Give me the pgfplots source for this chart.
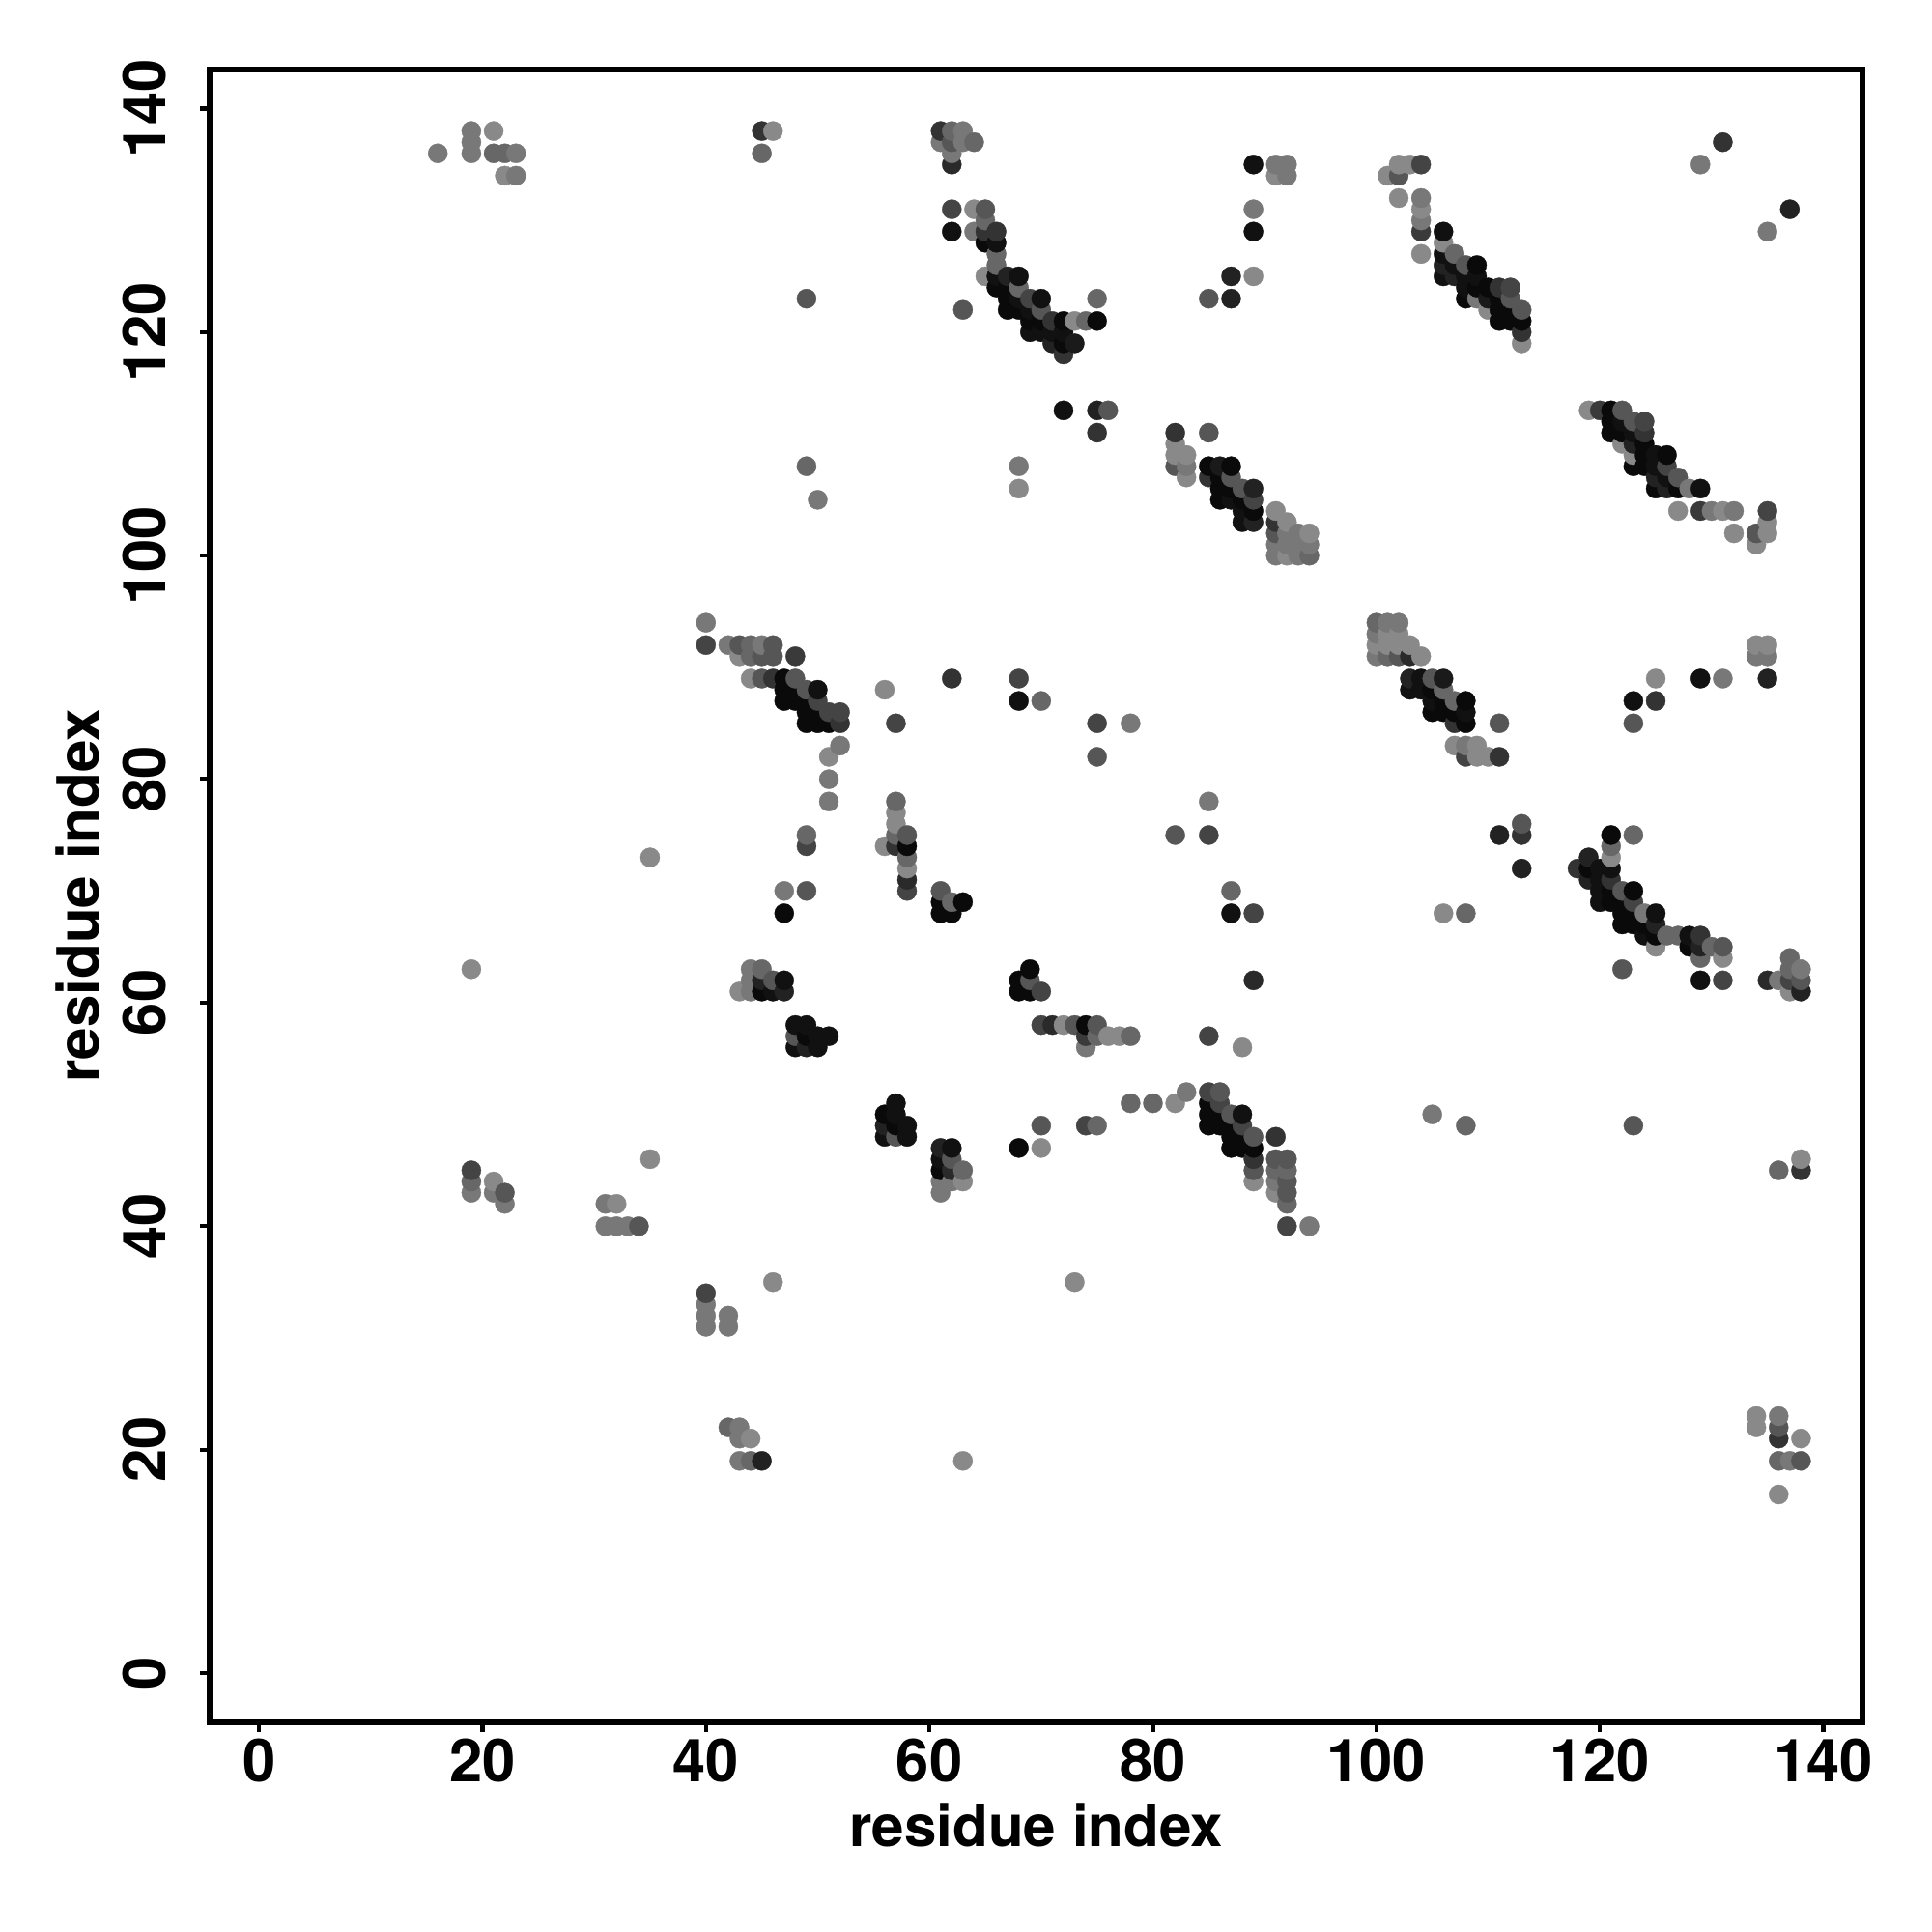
\documentclass[border=0pt]{standalone}
\usepackage{fontspec}
\setmainfont{TeX Gyre Heros}
\usepackage{pgfplots}
\pgfplotsset{compat=1.18}
\begin{document}
\begin{tikzpicture}
\path[use as bounding box] (0,0) rectangle (20cm,20cm);
\begin{axis}[
  at={(2.17cm,2.17cm)}, anchor=south west,
  scale only axis, width=17.11cm, height=17.11cm,
  xmin=-4.42, xmax=143.5, ymin=-4.4, ymax=143.5,
  xtick={0,20,...,140}, ytick={0,20,...,140},
  tick align=outside, xtick pos=bottom, ytick pos=left,
  major tick length=0.1cm,
  tick style={line width=1.2pt,black},
  axis line style={line width=1.6pt},
  /pgf/number format/assume math mode=true,
  tick label style={font=\bfseries\fontsize{17.5}{20}\selectfont},
  yticklabel style={rotate=90, anchor=south, inner sep=0pt, yshift=0.34cm},
  xticklabel style={anchor=north, inner sep=0pt, yshift=-0.06cm},
  label style={font=\bfseries\fontsize{17.1}{20}\selectfont},
  xlabel={residue index}, ylabel={residue index},
  xlabel style={at={(axis description cs:0.5,0)}, anchor=center, yshift=-1.06cm, inner sep=0pt},
  ylabel style={at={(axis description cs:0,0.5)}, anchor=center, yshift=1.37cm, inner sep=0pt},
  colormap={g}{gray(0cm)=(0); gray(1cm)=(1)},
  point meta min=0, point meta max=255,
  clip=false,
]
\addplot[only marks, scatter, scatter src=explicit, mark=*, mark size=2.85pt,
  mark options={line width=0.1pt},
  scatter/use mapped color={draw=mapped color, fill=mapped color}]
 table[row sep=\\, x index=0, y index=1, meta index=2] {
x y g\\
16 136 119\\
19 43 119\\ 19 44 102\\ 19 45 68\\ 19 63 136\\ 19 136 119\\ 19 137 119\\ 19 138 119\\
21 43 119\\ 21 44 136\\ 21 136 102\\ 21 138 136\\
22 42 119\\ 22 43 85\\ 22 134 136\\ 22 136 102\\
23 134 119\\ 23 136 119\\
31 40 119\\ 31 42 119\\
32 40 119\\ 32 42 136\\
33 40 119\\
34 40 85\\
35 46 136\\ 35 73 136\\
40 31 119\\ 40 32 119\\ 40 33 119\\ 40 34 68\\ 40 92 68\\ 40 94 119\\
42 22 102\\ 42 31 119\\ 42 32 119\\ 42 92 119\\
43 19 119\\ 43 21 119\\ 43 22 119\\ 43 61 136\\ 43 91 136\\ 43 92 85\\
44 19 102\\ 44 21 136\\ 44 61 119\\ 44 62 119\\ 44 63 119\\ 44 89 136\\ 44 91 102\\ 44 92 102\\
45 19 34\\ 45 61 10\\ 45 62 34\\ 45 63 102\\ 45 89 85\\ 45 91 85\\ 45 92 119\\ 45 136 102\\ 45 138 51\\
46 35 136\\ 46 61 17\\ 46 62 85\\ 46 89 51\\ 46 91 85\\ 46 92 85\\ 46 138 136\\
47 61 34\\ 47 62 17\\ 47 68 10\\ 47 70 119\\ 47 87 10\\ 47 88 10\\ 47 89 10\\
48 56 17\\ 48 57 85\\ 48 58 17\\ 48 87 10\\ 48 88 10\\ 48 89 85\\ 48 91 58\\
49 56 34\\ 49 57 10\\ 49 58 17\\ 49 70 85\\ 49 74 68\\ 49 75 102\\ 49 85 10\\ 49 86 10\\ 49 87 10\\ 49 88 85\\ 49 108 102\\ 49 123 85\\
50 56 17\\ 50 57 17\\ 50 85 10\\ 50 86 10\\ 50 87 68\\ 50 88 17\\ 50 105 119\\
51 57 17\\ 51 78 119\\ 51 80 119\\ 51 82 136\\ 51 85 10\\ 51 86 68\\
52 83 119\\ 52 85 51\\ 52 86 68\\
56 48 17\\ 56 49 34\\ 56 50 10\\ 56 74 136\\ 56 88 136\\
57 48 85\\ 57 49 10\\ 57 50 17\\ 57 51 17\\ 57 74 51\\ 57 75 102\\ 57 76 136\\ 57 77 136\\ 57 78 102\\ 57 85 68\\
58 48 17\\ 58 49 17\\ 58 70 68\\ 58 71 42\\ 58 72 136\\ 58 73 102\\ 58 74 10\\ 58 75 85\\
61 43 119\\ 61 44 119\\ 61 45 10\\ 61 46 17\\ 61 47 34\\ 61 68 10\\ 61 69 10\\ 61 70 85\\ 61 137 119\\ 61 138 51\\
62 44 119\\ 62 45 42\\ 62 46 85\\ 62 47 17\\ 62 68 10\\ 62 69 102\\ 62 89 51\\ 62 129 17\\ 62 131 68\\ 62 135 42\\ 62 136 119\\ 62 137 85\\ 62 138 102\\
63 19 136\\ 63 44 136\\ 63 45 102\\ 63 69 10\\ 63 122 85\\ 63 137 119\\ 63 138 119\\
64 129 119\\ 64 131 136\\ 64 137 102\\
65 125 136\\ 65 128 10\\ 65 129 51\\ 65 130 102\\ 65 131 85\\
66 124 10\\ 66 125 17\\ 66 126 102\\ 66 127 102\\ 66 128 17\\ 66 129 51\\
67 122 10\\ 67 123 10\\ 67 124 10\\ 67 125 34\\
68 47 10\\ 68 61 10\\ 68 62 10\\ 68 87 17\\ 68 89 68\\ 68 106 136\\ 68 108 119\\ 68 122 10\\ 68 123 17\\ 68 124 102\\ 68 125 17\\
69 61 10\\ 69 62 85\\ 69 63 10\\ 69 120 17\\ 69 121 10\\ 69 122 17\\ 69 123 68\\
70 47 136\\ 70 49 85\\ 70 58 68\\ 70 61 68\\ 70 87 102\\ 70 120 17\\ 70 121 10\\ 70 122 85\\ 70 123 17\\
71 58 42\\ 71 119 34\\ 71 120 17\\ 71 121 51\\
72 58 136\\ 72 113 17\\ 72 118 51\\ 72 119 10\\ 72 120 17\\ 72 121 10\\
73 35 136\\ 73 58 85\\ 73 119 26\\ 73 121 136\\
74 49 68\\ 74 56 119\\ 74 57 58\\ 74 58 10\\ 74 121 102\\
75 49 102\\ 75 57 102\\ 75 58 85\\ 75 82 85\\ 75 85 68\\ 75 111 51\\ 75 113 34\\ 75 121 10\\ 75 123 102\\
76 57 136\\ 76 113 85\\
77 57 136\\
78 51 102\\ 78 57 102\\ 78 85 119\\
80 51 102\\
82 51 136\\ 82 75 85\\ 82 108 85\\ 82 109 136\\ 82 110 136\\ 82 111 51\\
83 52 119\\ 83 107 136\\ 83 108 119\\ 83 109 136\\
85 49 10\\ 85 50 10\\ 85 51 10\\ 85 52 68\\ 85 57 68\\ 85 75 68\\ 85 78 119\\ 85 107 51\\ 85 108 10\\ 85 111 85\\ 85 123 85\\
86 49 10\\ 86 50 10\\ 86 51 68\\ 86 52 85\\ 86 105 10\\ 86 106 10\\ 86 107 10\\ 86 108 26\\
87 47 10\\ 87 48 10\\ 87 49 10\\ 87 50 85\\ 87 68 17\\ 87 70 102\\ 87 105 17\\ 87 106 10\\ 87 107 85\\ 87 108 10\\ 87 123 34\\ 87 125 34\\
88 47 10\\ 88 48 10\\ 88 49 68\\ 88 50 17\\ 88 56 136\\ 88 103 17\\ 88 104 17\\ 88 105 10\\ 88 106 85\\
89 44 136\\ 89 45 85\\ 89 46 51\\ 89 47 10\\ 89 48 85\\ 89 62 42\\ 89 68 68\\ 89 103 34\\ 89 104 10\\ 89 105 68\\ 89 106 34\\ 89 125 136\\ 89 129 17\\ 89 131 119\\ 89 135 17\\
91 43 136\\ 91 44 119\\ 91 45 102\\ 91 46 85\\ 91 48 51\\ 91 100 119\\ 91 101 119\\ 91 102 85\\ 91 103 51\\ 91 104 136\\ 91 134 136\\ 91 135 119\\
92 40 68\\ 92 42 102\\ 92 43 85\\ 92 44 85\\ 92 45 102\\ 92 46 85\\ 92 100 136\\ 92 101 119\\ 92 102 119\\ 92 103 136\\ 92 134 119\\ 92 135 119\\
93 100 119\\ 93 101 119\\ 93 102 119\\
94 40 119\\ 94 100 102\\ 94 101 119\\ 94 102 136\\
100 91 119\\ 100 92 136\\ 100 93 119\\ 100 94 102\\
101 91 102\\ 101 92 136\\ 101 93 136\\ 101 94 119\\ 101 134 136\\
102 91 85\\ 102 92 136\\ 102 93 136\\ 102 94 119\\ 102 132 136\\ 102 134 85\\ 102 135 136\\
103 88 17\\ 103 89 34\\ 103 91 42\\ 103 92 136\\ 103 135 136\\
104 88 17\\ 104 89 17\\ 104 91 136\\ 104 127 136\\ 104 129 58\\ 104 130 119\\ 104 131 136\\ 104 132 119\\ 104 135 68\\
105 50 119\\ 105 86 10\\ 105 87 17\\ 105 88 10\\ 105 89 85\\
106 68 136\\ 106 86 10\\ 106 87 10\\ 106 88 102\\ 106 89 26\\ 106 125 17\\ 106 126 34\\ 106 127 17\\ 106 128 136\\ 106 129 17\\
107 83 136\\ 107 85 51\\ 107 86 10\\ 107 87 102\\ 107 125 34\\ 107 126 17\\ 107 127 102\\
108 49 102\\ 108 68 102\\ 108 82 68\\ 108 83 119\\ 108 85 10\\ 108 86 17\\ 108 87 10\\ 108 123 10\\ 108 124 17\\ 108 125 17\\ 108 126 85\\
109 82 136\\ 109 83 136\\ 109 123 119\\ 109 124 10\\ 109 125 17\\ 109 126 10\\
110 82 136\\ 110 122 136\\ 110 123 26\\ 110 124 10\\
111 75 34\\ 111 82 51\\ 111 85 85\\ 111 121 10\\ 111 122 10\\ 111 123 10\\ 111 124 51\\
112 121 10\\ 112 122 10\\ 112 123 85\\ 112 124 68\\
113 72 34\\ 113 75 51\\ 113 76 85\\ 113 119 136\\ 113 120 51\\ 113 121 10\\ 113 122 85\\
118 72 51\\
119 71 34\\ 119 72 10\\ 119 73 34\\ 119 113 136\\
120 69 17\\ 120 70 17\\ 120 71 17\\ 120 72 17\\ 120 113 58\\
121 69 10\\ 121 70 10\\ 121 71 51\\ 121 72 17\\ 121 73 136\\ 121 74 102\\ 121 75 10\\ 121 111 10\\ 121 112 10\\ 121 113 10\\
122 63 85\\ 122 67 10\\ 122 68 10\\ 122 69 10\\ 122 70 85\\ 122 110 136\\ 122 111 10\\ 122 112 17\\ 122 113 85\\
123 49 85\\ 123 67 10\\ 123 68 10\\ 123 69 68\\ 123 70 10\\ 123 75 102\\ 123 85 85\\ 123 87 17\\ 123 108 10\\ 123 109 136\\ 123 110 34\\ 123 111 17\\ 123 112 85\\
124 66 17\\ 124 67 10\\ 124 68 119\\ 124 108 10\\ 124 109 10\\ 124 110 10\\ 124 111 51\\ 124 112 68\\
125 65 136\\ 125 66 10\\ 125 67 34\\ 125 68 17\\ 125 87 51\\ 125 89 136\\ 125 106 10\\ 125 107 34\\ 125 108 17\\ 125 109 17\\
126 66 102\\ 126 106 34\\ 126 107 17\\ 126 108 68\\ 126 109 10\\
127 66 102\\ 127 104 136\\ 127 106 10\\ 127 107 85\\
128 65 10\\ 128 66 17\\ 128 106 119\\
129 62 17\\ 129 64 102\\ 129 65 34\\ 129 66 51\\ 129 89 17\\ 129 104 58\\ 129 106 17\\ 129 135 119\\
130 65 102\\ 130 104 119\\
131 62 68\\ 131 64 136\\ 131 65 85\\ 131 89 119\\ 131 104 136\\ 131 137 51\\
132 102 136\\ 132 104 119\\
134 22 136\\ 134 23 136\\ 134 91 119\\ 134 92 136\\ 134 101 136\\ 134 102 85\\
135 62 42\\ 135 89 34\\ 135 91 119\\ 135 92 136\\ 135 102 136\\ 135 103 136\\ 135 104 68\\ 135 129 119\\
136 16 136\\ 136 19 102\\ 136 21 51\\ 136 22 85\\ 136 23 119\\ 136 45 102\\ 136 62 119\\
137 19 119\\ 137 61 136\\ 137 62 68\\ 137 63 102\\ 137 64 102\\ 137 131 34\\
138 19 85\\ 138 21 136\\ 138 45 51\\ 138 46 136\\ 138 61 34\\ 138 62 85\\ 138 63 119\\
};
\end{axis}
\end{tikzpicture}
\end{document}
